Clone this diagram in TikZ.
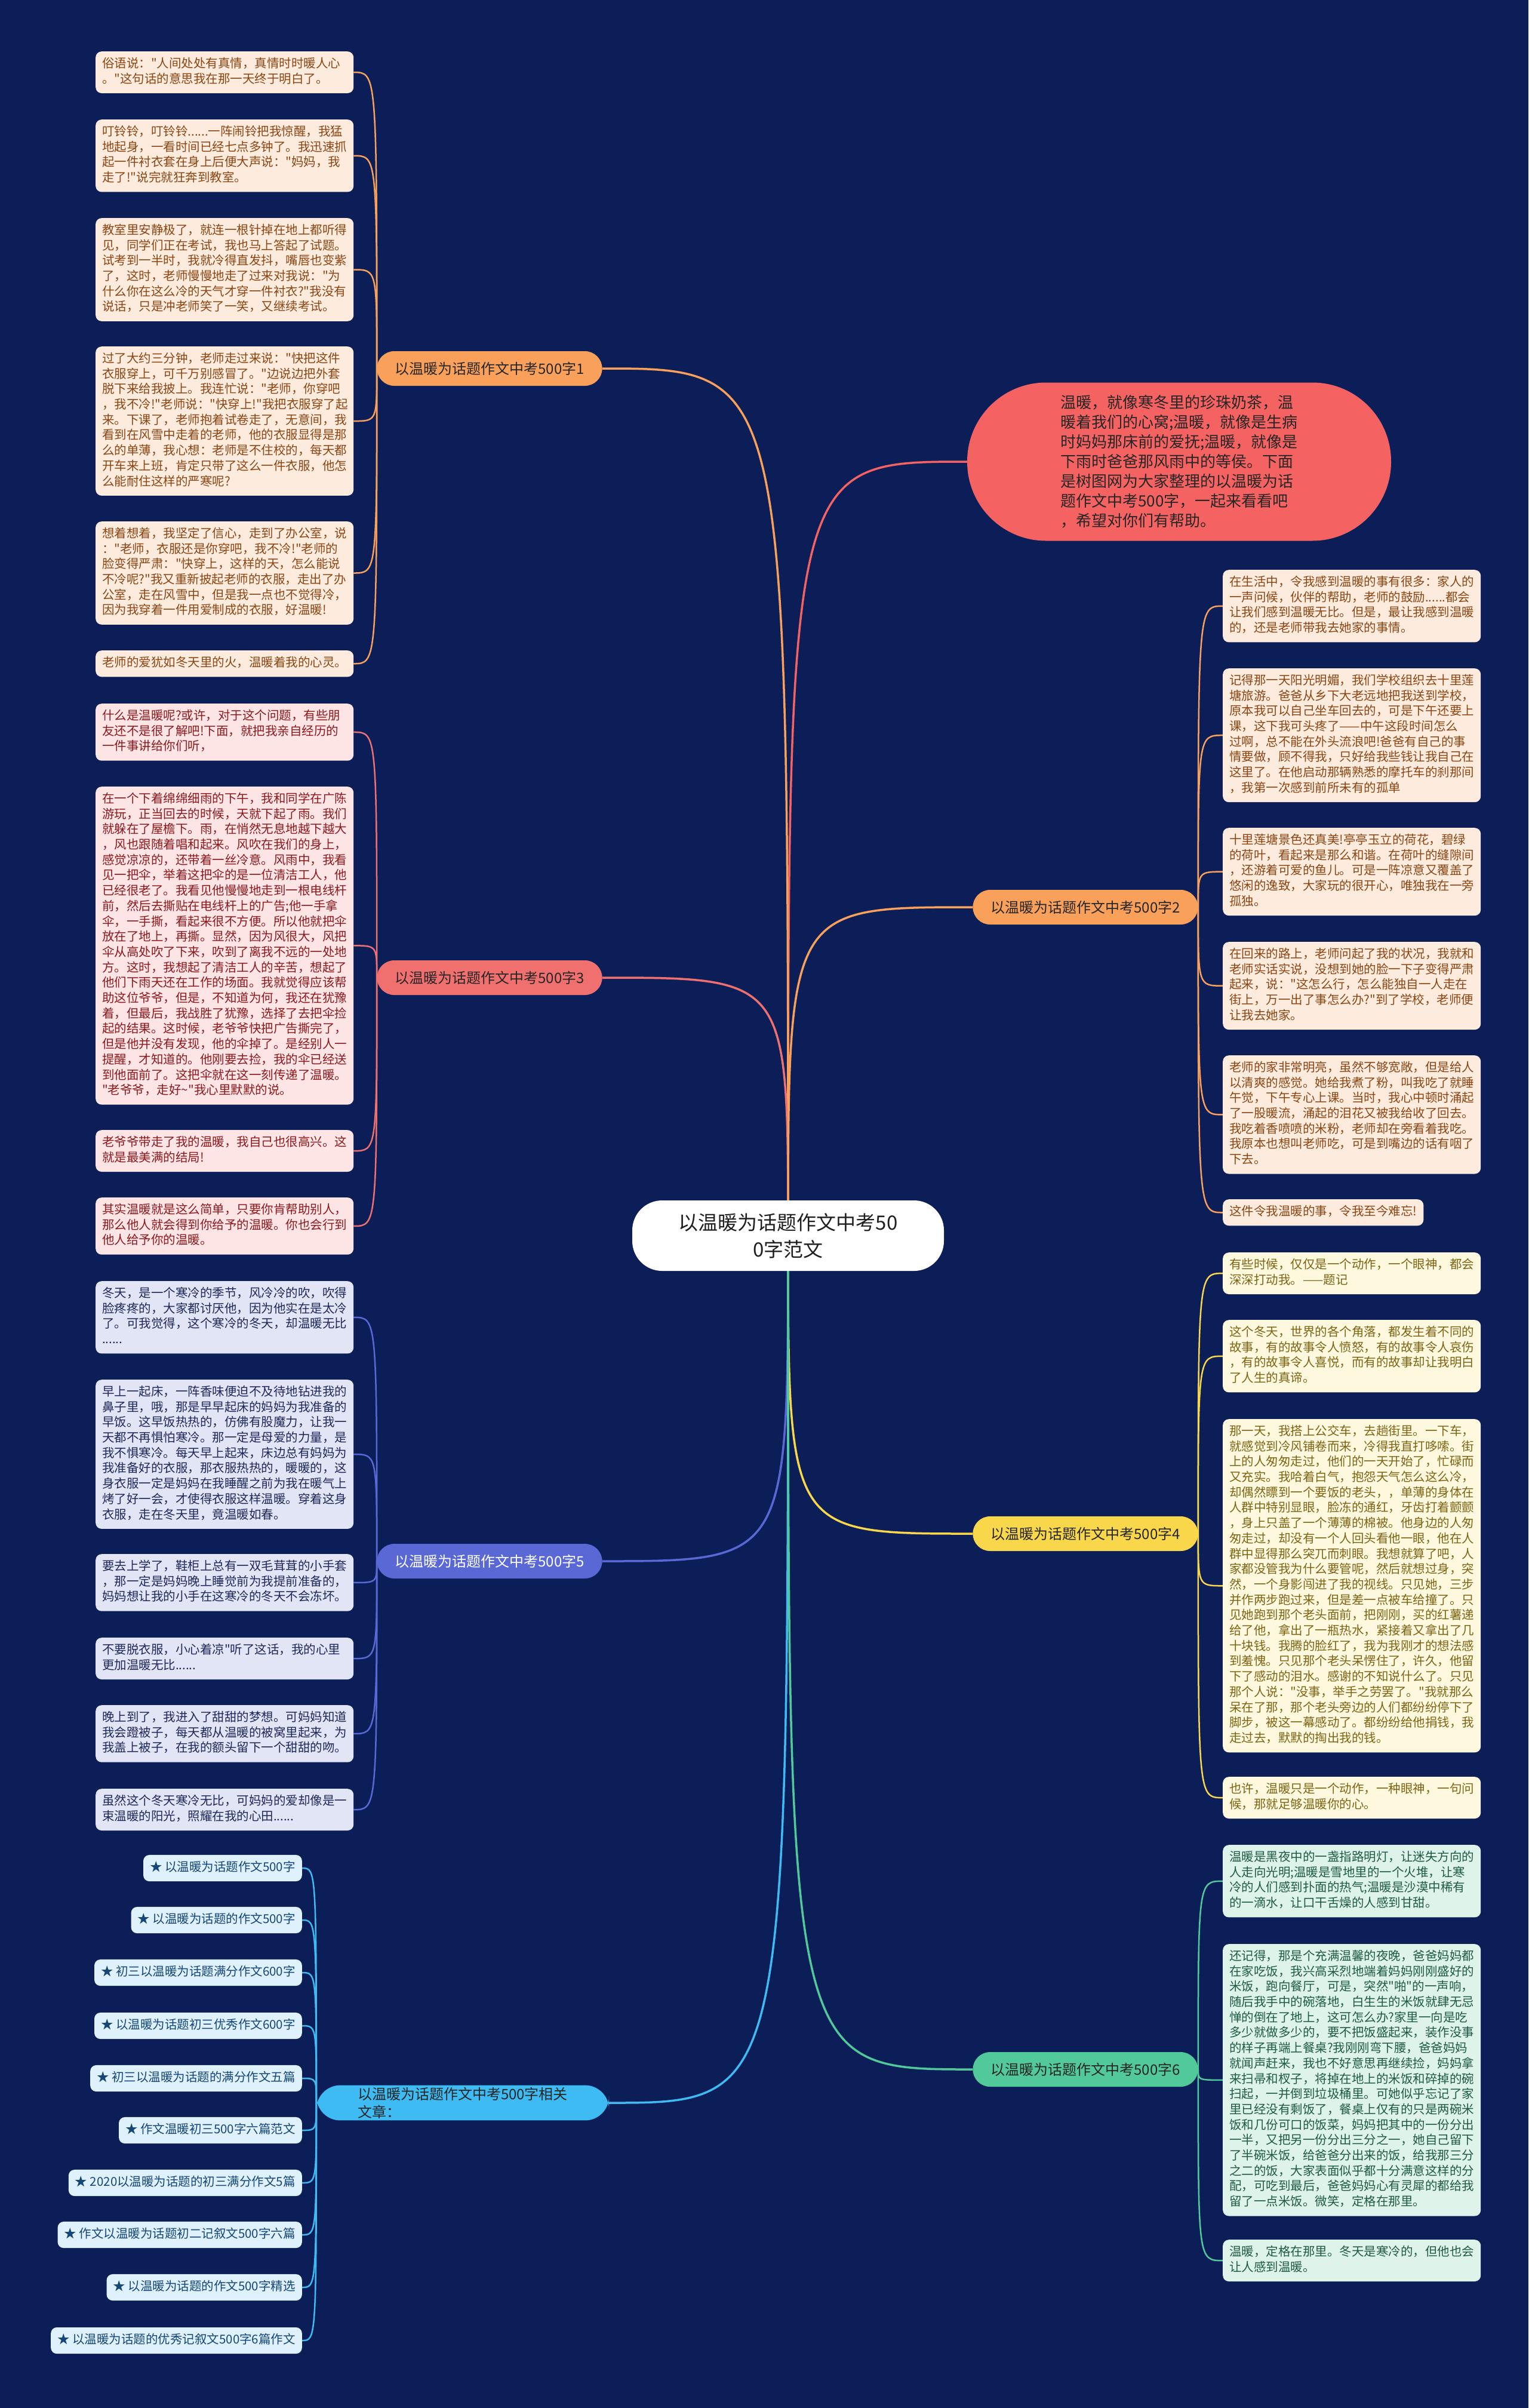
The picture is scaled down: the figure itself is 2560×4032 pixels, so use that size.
\documentclass[tikz,border=0pt]{standalone}
\usepackage{fontspec}
\setmainfont{Noto Sans CJK SC}[Ligatures=TeXOff]
\setlength{\parindent}{0pt}
\pgfdeclarelayer{bg}
\pgfdeclarelayer{edges}
\pgfsetlayers{bg,edges,main}
\definecolor{navy}{RGB}{12,30,88}
\definecolor{cOr}{RGB}{249,161,91}
\definecolor{cRd}{RGB}{240,112,112}
\definecolor{cBl}{RGB}{90,104,214}
\definecolor{cSky}{RGB}{62,187,243}
\definecolor{cYe}{RGB}{249,215,74}
\definecolor{cGr}{RGB}{82,201,154}
\definecolor{cIntro}{RGB}{245,98,98}
\definecolor{fOr}{RGB}{253,236,222}
\definecolor{tOr}{RGB}{139,69,19}
\definecolor{fRd}{RGB}{253,229,229}
\definecolor{tRd}{RGB}{140,25,30}
\definecolor{fBl}{RGB}{226,229,245}
\definecolor{tBl}{RGB}{30,40,90}
\definecolor{fYe}{RGB}{254,248,222}
\definecolor{tYe}{RGB}{125,100,20}
\definecolor{fGr}{RGB}{222,243,233}
\definecolor{tGr}{RGB}{30,90,70}
\definecolor{fSky}{RGB}{222,241,252}
\definecolor{tSky}{RGB}{20,70,120}
\tikzset{
  leaf/.style={rounded corners=10pt, inner xsep=11pt, inner ysep=9.2pt, align=left,
    text width=410pt, font=\fontsize{20.5}{25.7}\selectfont,
    execute at begin node=\strut, execute at end node=\strut, anchor=north west},
  leafshort/.style={rounded corners=10pt, inner xsep=11pt, inner ysep=9.2pt,
    font=\fontsize{20.5}{25.7}\selectfont, execute at begin node=\strut},
  gOr/.style={fill=fOr, text=tOr},
  gRd/.style={fill=fRd, text=tRd},
  gBl/.style={fill=fBl, text=tBl},
  gYe/.style={fill=fYe, text=tYe},
  gGr/.style={fill=fGr, text=tGr},
  gSky/.style={fill=fSky, text=tSky},
  topic/.style={rounded corners=29pt, minimum height=58pt, inner xsep=30pt,
    font=\fontsize{24}{30}\selectfont, text={black!85}},
  centernode/.style={fill=white, rounded corners=50pt, minimum width=522pt, minimum height=118pt,
    align=center, font=\fontsize{33}{45}\selectfont, text={black!88}},
  intro/.style={fill=cIntro, rounded corners=132pt, minimum width=710pt, minimum height=265pt,
    align=left, font=\fontsize{26}{33}\selectfont, text={black!85}},
  link/.style={line width=3.5pt},
  twig/.style={line width=2.5pt},
}
\newcommand\twigL[3]{\draw[twig,#1] (#2.west) .. controls (#2.west |- #3.east) .. (#3.east);}
\newcommand\twigR[3]{\draw[twig,#1] (#2.east) .. controls (#2.east |- #3.west) .. (#3.west);}
\newcommand\linkL[2]{\draw[link,#1] (c.center) .. controls (c.center |- #2.east) .. (#2.east);}
\newcommand\linkR[2]{\draw[link,#1] (c.center) .. controls (c.center |- #2.west) .. (#2.west);}
\begin{document}
\begin{tikzpicture}[x=1pt,y=-1pt]
\begin{pgfonlayer}{bg}
\fill[navy] (0,0) rectangle (2560,4032);
\end{pgfonlayer}
\useasboundingbox (0,0) rectangle (2560,4032);

% center and intro
\node[centernode] (c) at (1320,2069) {以温暖为话题作文中考50\\0字范文};
\node[intro] (intro) at (1975,773) {温暖，就像寒冬里的珍珠奶茶，温\\
暖着我们的心窝;温暖，就像是生病\\
时妈妈那床前的爱抚;温暖，就像是\\
下雨时爸爸那风雨中的等侯。下面\\
是树图网为大家整理的以温暖为话\\
题作文中考500字，一起来看看吧\\
，希望对你们有帮助。};

% topics
\node[topic, fill=cOr] (t1) at (820,617) {以温暖为话题作文中考500字1};
\node[topic, fill=cRd] (t3) at (820,1637) {以温暖为话题作文中考500字3};
\node[topic, fill=cBl, text=white] (t5) at (820,2614) {以温暖为话题作文中考500字5};
\node[topic, fill=cSky, align=left, minimum width=490pt, rounded corners=40pt, text={black!85}] (rel) at (775,3521) {以温暖为话题作文中考500字相关\\文章：};
\node[topic, fill=cOr] (t2) at (1818,1519) {以温暖为话题作文中考500字2};
\node[topic, fill=cYe] (t4) at (1818,2568) {以温暖为话题作文中考500字4};
\node[topic, fill=cGr] (t6) at (1818,3465) {以温暖为话题作文中考500字6};

% group 1
\node[leaf,gOr] (l1a) at (160,86) {俗语说："人间处处有真情，真情时时暖人心\\
。"这句话的意思我在那一天终于明白了。};
\node[leaf,gOr] (l1b) at (160,200) {叮铃铃，叮铃铃......一阵闹铃把我惊醒，我猛\\
地起身，一看时间已经七点多钟了。我迅速抓\\
起一件衬衣套在身上后便大声说："妈妈，我\\
走了!"说完就狂奔到教室。};
\node[leaf,gOr] (l1c) at (160,365) {教室里安静极了，就连一根针掉在地上都听得\\
见，同学们正在考试，我也马上答起了试题。\\
试考到一半时，我就冷得直发抖，嘴唇也变紫\\
了，这时，老师慢慢地走了过来对我说："为\\
什么你在这么冷的天气才穿一件衬衣?"我没有\\
说话，只是冲老师笑了一笑，又继续考试。};
\node[leaf,gOr] (l1d) at (160,580) {过了大约三分钟，老师走过来说："快把这件\\
衣服穿上，可千万别感冒了。"边说边把外套\\
脱下来给我披上。我连忙说："老师，你穿吧\\
，我不冷!"老师说："快穿上!"我把衣服穿了起\\
来。下课了，老师抱着试卷走了，无意间，我\\
看到在风雪中走着的老师，他的衣服显得是那\\
么的单薄，我心想：老师是不住校的，每天都\\
开车来上班，肯定只带了这么一件衣服，他怎\\
么能耐住这样的严寒呢?};
\node[leaf,gOr] (l1e) at (160,873) {想着想着，我坚定了信心，走到了办公室，说\\
："老师，衣服还是你穿吧，我不冷!"老师的\\
脸变得严肃："快穿上，这样的天，怎么能说\\
不冷呢?"我又重新披起老师的衣服，走出了办\\
公室，走在风雪中，但是我一点也不觉得冷，\\
因为我穿着一件用爱制成的衣服，好温暖!};
\node[leaf,gOr] (l1f) at (160,1089) {老师的爱犹如冬天里的火，温暖着我的心灵。};

% group 3
\node[leaf,gRd] (l3a) at (160,1178) {什么是温暖呢?或许，对于这个问题，有些朋\\
友还不是很了解吧!下面，就把我亲自经历的\\
一件事讲给你们听，};
\node[leaf,gRd] (l3b) at (160,1317) {在一个下着绵绵细雨的下午，我和同学在广陈\\
游玩，正当回去的时候，天就下起了雨。我们\\
就躲在了屋檐下。雨，在悄然无息地越下越大\\
，风也跟随着唱和起来。风吹在我们的身上，\\
感觉凉凉的，还带着一丝冷意。风雨中，我看\\
见一把伞，举着这把伞的是一位清洁工人，他\\
已经很老了。我看见他慢慢地走到一根电线杆\\
前，然后去撕贴在电线杆上的广告;他一手拿\\
伞，一手撕，看起来很不方便。所以他就把伞\\
放在了地上，再撕。显然，因为风很大，风把\\
伞从高处吹了下来，吹到了离我不远的一处地\\
方。这时，我想起了清洁工人的辛苦，想起了\\
他们下雨天还在工作的场面。我就觉得应该帮\\
助这位爷爷，但是，不知道为何，我还在犹豫\\
着，但最后，我战胜了犹豫，选择了去把伞捡\\
起的结果。这时候，老爷爷快把广告撕完了，\\
但是他并没有发现，他的伞掉了。是经别人一\\
提醒，才知道的。他刚要去捡，我的伞已经送\\
到他面前了。这把伞就在这一刻传递了温暖。\\
"老爷爷，走好\textasciitilde"我心里默默的说。};
\node[leaf,gRd] (l3c) at (160,1892) {老爷爷带走了我的温暖，我自己也很高兴。这\\
就是最美满的结局!};
\node[leaf,gRd] (l3d) at (160,2005) {其实温暖就是这么简单，只要你肯帮助别人，\\
那么他人就会得到你给予的温暖。你也会行到\\
他人给予你的温暖。};

% group 5
\node[leaf,gBl] (l5a) at (160,2145) {冬天，是一个寒冷的季节，风冷冷的吹，吹得\\
脸疼疼的，大家都讨厌他，因为他实在是太冷\\
了。可我觉得，这个寒冷的冬天，却温暖无比\\
......};
\node[leaf,gBl] (l5b) at (160,2310) {早上一起床，一阵香味便迫不及待地钻进我的\\
鼻子里，哦，那是早早起床的妈妈为我准备的\\
早饭。这早饭热热的，仿佛有股魔力，让我一\\
天都不再惧怕寒冷。那一定是母爱的力量，是\\
我不惧寒冷。每天早上起来，床边总有妈妈为\\
我准备好的衣服，那衣服热热的，暖暖的，这\\
身衣服一定是妈妈在我睡醒之前为我在暖气上\\
烤了好一会，才使得衣服这样温暖。穿着这身\\
衣服，走在冬天里，竟温暖如春。};
\node[leaf,gBl] (l5c) at (160,2602) {要去上学了，鞋柜上总有一双毛茸茸的小手套\\
，那一定是妈妈晚上睡觉前为我提前准备的，\\
妈妈想让我的小手在这寒冷的冬天不会冻坏。};
\node[leaf,gBl] (l5d) at (160,2742) {不要脱衣服，小心着凉"听了这话，我的心里\\
更加温暖无比......};
\node[leaf,gBl] (l5e) at (160,2855) {晚上到了，我进入了甜甜的梦想。可妈妈知道\\
我会蹬被子，每天都从温暖的被窝里起来，为\\
我盖上被子，在我的额头留下一个甜甜的吻。};
\node[leaf,gBl] (l5f) at (160,2995) {虽然这个冬天寒冷无比，可妈妈的爱却像是一\\
束温暖的阳光，照耀在我的心田......};

% related
\node[leafshort,gSky,anchor=east] (ra) at (506,3128) {★ 以温暖为话题作文500字};
\node[leafshort,gSky,anchor=east] (rb) at (506,3215) {★ 以温暖为话题的作文500字};
\node[leafshort,gSky,anchor=east] (rc) at (506,3303) {★ 初三以温暖为话题满分作文600字};
\node[leafshort,gSky,anchor=east] (rd) at (506,3392) {★ 以温暖为话题初三优秀作文600字};
\node[leafshort,gSky,anchor=east] (re) at (506,3480) {★ 初三以温暖为话题的满分作文五篇};
\node[leafshort,gSky,anchor=east] (rf) at (506,3567) {★ 作文温暖初三500字六篇范文};
\node[leafshort,gSky,anchor=east] (rg) at (506,3655) {★ 2020以温暖为话题的初三满分作文5篇};
\node[leafshort,gSky,anchor=east] (rh) at (506,3742) {★ 作文以温暖为话题初二记叙文500字六篇};
\node[leafshort,gSky,anchor=east] (ri) at (506,3830) {★ 以温暖为话题的作文500字精选};
\node[leafshort,gSky,anchor=east] (rj) at (506,3919) {★ 以温暖为话题的优秀记叙文500字6篇作文};

% group 2
\node[leaf,gOr] (r2a) at (2048,954) {在生活中，令我感到温暖的事有很多：家人的\\
一声问候，伙伴的帮助，老师的鼓励......都会\\
让我们感到温暖无比。但是，最让我感到温暖\\
的，还是老师带我去她家的事情。};
\node[leaf,gOr] (r2b) at (2048,1119) {记得那一天阳光明媚，我们学校组织去十里莲\\
塘旅游。爸爸从乡下大老远地把我送到学校，\\
原本我可以自己坐车回去的，可是下午还要上\\
课，这下我可头疼了——中午这段时间怎么\\
过啊，总不能在外头流浪吧!爸爸有自己的事\\
情要做，顾不得我，只好给我些钱让我自己在\\
这里了。在他启动那辆熟悉的摩托车的刹那间\\
，我第一次感到前所未有的孤单};
\node[leaf,gOr] (r2c) at (2048,1386) {十里莲塘景色还真美!亭亭玉立的荷花，碧绿\\
的荷叶，看起来是那么和谐。在荷叶的缝隙间\\
，还游着可爱的鱼儿。可是一阵凉意又覆盖了\\
悠闲的逸致，大家玩的很开心，唯独我在一旁\\
孤独。};
\node[leaf,gOr] (r2d) at (2048,1577) {在回来的路上，老师问起了我的状况，我就和\\
老师实话实说，没想到她的脸一下子变得严肃\\
起来，说："这怎么行，怎么能独自一人走在\\
街上，万一出了事怎么办?"到了学校，老师便\\
让我去她家。};
\node[leaf,gOr] (r2e) at (2048,1767) {老师的家非常明亮，虽然不够宽敞，但是给人\\
以清爽的感觉。她给我煮了粉，叫我吃了就睡\\
午觉，下午专心上课。当时，我心中顿时涌起\\
了一股暖流，涌起的泪花又被我给收了回去。\\
我吃着香喷喷的米粉，老师却在旁看着我吃。\\
我原本也想叫老师吃，可是到嘴边的话有咽了\\
下去。};
\node[leafshort,gOr,anchor=north west] (r2f) at (2048,2008) {这件令我温暖的事，令我至今难忘!};

% group 4
\node[leaf,gYe] (r4a) at (2048,2097) {有些时候，仅仅是一个动作，一个眼神，都会\\
深深打动我。——题记};
\node[leaf,gYe] (r4b) at (2048,2210) {这个冬天，世界的各个角落，都发生着不同的\\
故事，有的故事令人愤怒，有的故事令人哀伤\\
，有的故事令人喜悦，而有的故事却让我明白\\
了人生的真谛。};
\node[leaf,gYe] (r4c) at (2048,2376) {那一天，我搭上公交车，去趟街里。一下车，\\
就感觉到冷风铺卷而来，冷得我直打哆嗦。街\\
上的人匆匆走过，他们的一天开始了，忙碌而\\
又充实。我哈着白气，抱怨天气怎么这么冷，\\
却偶然瞟到一个要饭的老头，，单薄的身体在\\
人群中特别显眼，脸冻的通红，牙齿打着颤颤\\
，身上只盖了一个薄薄的棉被。他身边的人匆\\
匆走过，却没有一个人回头看他一眼，他在人\\
群中显得那么突兀而刺眼。我想就算了吧，人\\
家都没管我为什么要管呢，然后就想过身，突\\
然，一个身影闯进了我的视线。只见她，三步\\
并作两步跑过来，但是差一点被车给撞了。只\\
见她跑到那个老头面前，把刚刚，买的红薯递\\
给了他，拿出了一瓶热水，紧接着又拿出了几\\
十块钱。我腾的脸红了，我为我刚才的想法感\\
到羞愧。只见那个老头呆愣住了，许久，他留\\
下了感动的泪水。感谢的不知说什么了。只见\\
那个人说："没事，举手之劳罢了。"我就那么\\
呆在了那，那个老头旁边的人们都纷纷停下了\\
脚步，被这一幕感动了。都纷纷给他捐钱，我\\
走过去，默默的掏出我的钱。};
\node[leaf,gYe] (r4d) at (2048,2975) {也许，温暖只是一个动作，一种眼神，一句问\\
候，那就足够温暖你的心。};

% group 6
\node[leaf,gGr] (r6a) at (2048,3089) {温暖是黑夜中的一盏指路明灯，让迷失方向的\\
人走向光明;温暖是雪地里的一个火堆，让寒\\
冷的人们感到扑面的热气;温暖是沙漠中稀有\\
的一滴水，让口干舌燥的人感到甘甜。};
\node[leaf,gGr] (r6b) at (2048,3255) {还记得，那是个充满温馨的夜晚，爸爸妈妈都\\
在家吃饭，我兴高采烈地端着妈妈刚刚盛好的\\
米饭，跑向餐厅，可是，突然"啪"的一声响，\\
随后我手中的碗落地，白生生的米饭就肆无忌\\
惮的倒在了地上，这可怎么办?家里一向是吃\\
多少就做多少的，要不把饭盛起来，装作没事\\
的样子再端上餐桌?我刚刚弯下腰，爸爸妈妈\\
就闻声赶来，我也不好意思再继续捡，妈妈拿\\
来扫帚和杈子，将掉在地上的米饭和碎掉的碗\\
扫起，一并倒到垃圾桶里。可她似乎忘记了家\\
里已经没有剩饭了，餐桌上仅有的只是两碗米\\
饭和几份可口的饭菜，妈妈把其中的一份分出\\
一半，又把另一份分出三分之一，她自己留下\\
了半碗米饭，给爸爸分出来的饭，给我那三分\\
之二的饭，大家表面似乎都十分满意这样的分\\
配，可吃到最后，爸爸妈妈心有灵犀的都给我\\
留了一点米饭。微笑，定格在那里。};
\node[leaf,gGr] (r6c) at (2048,3750) {温暖，定格在那里。冬天是寒冷的，但他也会\\
让人感到温暖。};

\begin{pgfonlayer}{edges}
\linkR{cIntro}{intro}
\linkL{cOr}{t1}
\linkL{cRd}{t3}
\linkL{cBl}{t5}
\linkL{cSky}{rel}
\linkR{cOr}{t2}
\linkR{cYe}{t4}
\linkR{cGr}{t6}
\twigL{cOr}{t1}{l1a}\twigL{cOr}{t1}{l1b}\twigL{cOr}{t1}{l1c}
\twigL{cOr}{t1}{l1d}\twigL{cOr}{t1}{l1e}\twigL{cOr}{t1}{l1f}
\twigL{cRd}{t3}{l3a}\twigL{cRd}{t3}{l3b}\twigL{cRd}{t3}{l3c}\twigL{cRd}{t3}{l3d}
\twigL{cBl}{t5}{l5a}\twigL{cBl}{t5}{l5b}\twigL{cBl}{t5}{l5c}
\twigL{cBl}{t5}{l5d}\twigL{cBl}{t5}{l5e}\twigL{cBl}{t5}{l5f}
\twigL{cSky}{rel}{ra}\twigL{cSky}{rel}{rb}\twigL{cSky}{rel}{rc}\twigL{cSky}{rel}{rd}
\twigL{cSky}{rel}{re}\twigL{cSky}{rel}{rf}\twigL{cSky}{rel}{rg}\twigL{cSky}{rel}{rh}
\twigL{cSky}{rel}{ri}\twigL{cSky}{rel}{rj}
\twigR{cOr}{t2}{r2a}\twigR{cOr}{t2}{r2b}\twigR{cOr}{t2}{r2c}
\twigR{cOr}{t2}{r2d}\twigR{cOr}{t2}{r2e}\twigR{cOr}{t2}{r2f}
\twigR{cYe}{t4}{r4a}\twigR{cYe}{t4}{r4b}\twigR{cYe}{t4}{r4c}\twigR{cYe}{t4}{r4d}
\twigR{cGr}{t6}{r6a}\twigR{cGr}{t6}{r6b}\twigR{cGr}{t6}{r6c}
\end{pgfonlayer}
\end{tikzpicture}
\end{document}
